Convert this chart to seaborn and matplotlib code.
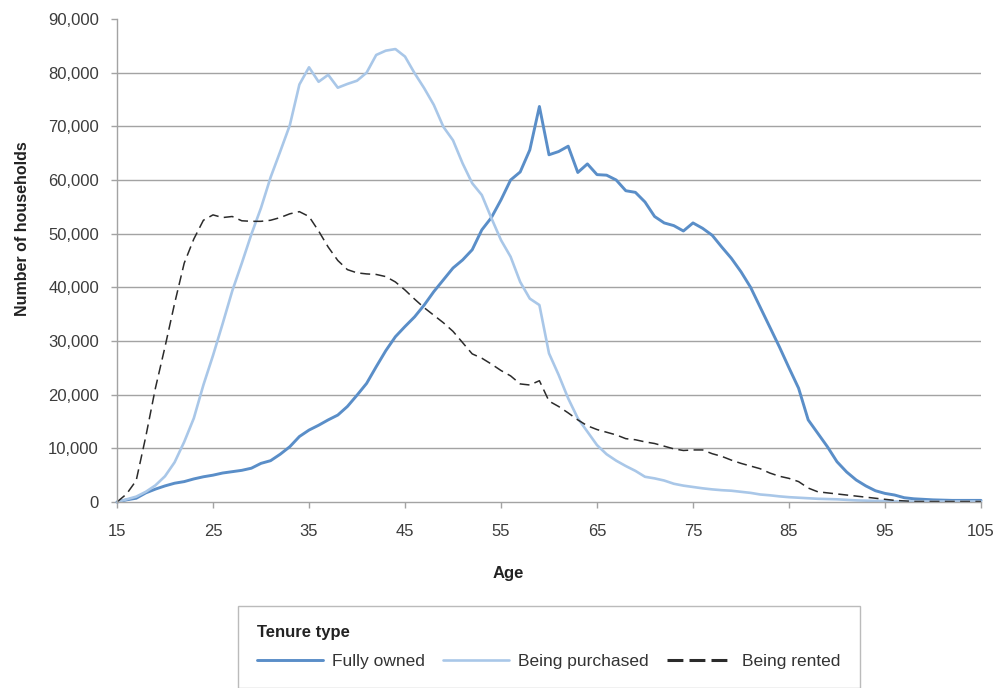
import matplotlib
matplotlib.use("Agg")
import matplotlib.pyplot as plt
from matplotlib.ticker import FixedLocator, StrMethodFormatter
import seaborn as sns
import pandas as pd

# ---------------- data ----------------
ages = list(range(15, 106))

fully_owned = [
    0, 400, 700, 1700, 2400, 3000, 3500, 3800, 4300, 4700,
    5000, 5400, 5650, 5900, 6300, 7200, 7700, 8900, 10300, 12200,
    13400, 14300, 15300, 16200, 17800, 19900, 22100, 25200, 28200, 30800,
    32700, 34500, 36700, 39200, 41400, 43600, 45100, 47000, 50700, 53000,
    56300, 60000, 61500, 65600, 73700, 64700, 65300, 66300, 61400, 63000,
    61000, 60900, 60000, 58000, 57700, 55900, 53200, 52000, 51500, 50500,
    52000, 51000, 49700, 47500, 45400, 42900, 40000, 36300, 32600, 28900,
    25000, 21200, 15300, 12800, 10300, 7500, 5600, 4100, 3000, 2100,
    1600, 1300, 800, 600, 500, 400, 350, 300, 300, 300, 300,
]

being_purchased = [
    0, 500, 1000, 1900, 3100, 4800, 7400, 11200, 15600, 21800,
    27300, 33200, 39300, 44500, 49900, 54800, 60500, 65300, 70200, 77800,
    81000, 78300, 79600, 77200, 77900, 78500, 80000, 83300, 84100, 84400,
    83000, 79900, 77100, 74000, 69900, 67400, 63100, 59400, 57200, 52900,
    48800, 45700, 41000, 37900, 36700, 27700, 23700, 19300, 15600, 13100,
    10600, 8900, 7700, 6700, 5800, 4700, 4400, 4000, 3400, 3050,
    2800, 2550, 2350, 2200, 2100, 1900, 1700, 1400, 1250, 1050,
    900, 800, 700, 600, 550, 500, 400, 300, 250, 200,
    200, 100, 100, 100, 100, 100, 100, 100, 100, 100, 100,
]

being_rented = [
    0, 1500, 4000, 12200, 21200, 28900, 37000, 44500, 49000, 52500,
    53500, 53000, 53200, 52400, 52300, 52300, 52500, 53000, 53700, 54100,
    53200, 50500, 47500, 45000, 43300, 42700, 42500, 42400, 42000, 41000,
    39500, 37800, 36200, 34800, 33400, 31800, 29700, 27600, 26800, 25700,
    24500, 23500, 22000, 21800, 22600, 18800, 17800, 16600, 15300, 14200,
    13500, 13000, 12500, 11800, 11600, 11200, 10900, 10400, 9900, 9600,
    9700, 9700, 9000, 8500, 7800, 7200, 6700, 6200, 5400, 4800,
    4400, 3800, 2600, 1900, 1700, 1500, 1300, 1100, 900, 700,
    500, 300, 200, 100, 100, 100, 100, 100, 100, 100, 100,
]

series_names = ["Fully owned", "Being purchased", "Being rented"]
x_ticks = [15, 25, 35, 45, 55, 65, 75, 85, 95, 105]
y_ticks = [0, 10000, 20000, 30000, 40000, 50000, 60000, 70000, 80000, 90000]

# ---------------- style ----------------
sns.set_style("white")
plt.rcParams["font.family"] = ["Liberation Sans", "DejaVu Sans"]

colors = {"Fully owned": "#5a8ec8", "Being purchased": "#a9c7e8", "Being rented": "#2b2b2b"}
widths = {"Fully owned": 2.1, "Being purchased": 1.9, "Being rented": 1.1}

df = pd.DataFrame({
    "Age": ages * 3,
    "Households": fully_owned + being_purchased + being_rented,
    "Tenure": [series_names[0]] * len(ages) + [series_names[1]] * len(ages) + [series_names[2]] * len(ages),
})

fig, ax = plt.subplots(figsize=(10.01, 6.88), dpi=100)
fig.subplots_adjust(left=117 / 1001, right=981 / 1001, bottom=(688 - 502) / 688, top=(688 - 19) / 688)

handles = []
for name in series_names:
    sub = df[df["Tenure"] == name]
    sns.lineplot(data=sub, x="Age", y="Households", ax=ax, color=colors[name],
                 linewidth=widths[name], label=name, legend=False, clip_on=False)
    line = ax.get_lines()[-1]
    if name == "Being rented":
        line.set_dashes((6.5, 3.5))
    handles.append(line)

ax.set_xlim(15, 105)
ax.set_ylim(0, 90000)
ax.xaxis.set_major_locator(FixedLocator(x_ticks))
ax.yaxis.set_major_locator(FixedLocator(y_ticks))
ax.yaxis.set_major_formatter(StrMethodFormatter("{x:,.0f}"))

grid_c = "#a3a3a3"
ax.yaxis.grid(True, color=grid_c, linewidth=1.0)
ax.xaxis.grid(False)
ax.set_axisbelow(True)
for gl, t in zip(ax.yaxis.get_gridlines(), y_ticks):
    if t in (0, 90000):
        gl.set_visible(False)

for side in ("top", "right"):
    ax.spines[side].set_visible(False)
for side in ("left", "bottom"):
    ax.spines[side].set_color(grid_c)
    ax.spines[side].set_linewidth(1.0)

ax.tick_params(axis="both", which="major", direction="out", length=4, width=1.0,
               color=grid_c, labelsize=12, labelcolor="#3c3c3c")
ax.tick_params(axis="y", pad=9, left=True)
ax.tick_params(axis="x", pad=12, bottom=True)

ax.set_xlabel("Age", fontsize=12, fontweight="bold", color="#222222")
ax.xaxis.label.set_va("top")
ax.xaxis.set_label_coords((508 - 117) / 864, (502 - 566) / 483)

ax.set_ylabel("Number of households", fontsize=11.5, fontweight="bold", color="#222222")
ax.yaxis.label.set_rotation_mode("default")
ax.yaxis.label.set_va("center")
ax.yaxis.label.set_ha("center")
ax.yaxis.set_label_coords((22.5 - 117) / 864, (502 - 229) / 483)

leg = fig.legend(handles, series_names, loc="upper left",
                 bbox_to_anchor=(238 / 1001, 1 - 606 / 688), bbox_transform=fig.transFigure,
                 ncol=3, title="Tenure type", alignment="left",
                 frameon=True, fancybox=False, shadow=False,
                 borderpad=1.1, borderaxespad=0, handlelength=3.8, handletextpad=0.52,
                 columnspacing=1.05, labelspacing=0.8, fontsize=12.5,
                 title_fontproperties={"weight": "bold", "size": 12})
leg.get_frame().set_edgecolor("#aaaaaa")
leg.get_frame().set_linewidth(1.0)
for txt in leg.get_texts():
    txt.set_color("#333333")
leg.get_title().set_color("#222222")
dash_handle = leg.legend_handles[2]
dash_handle.set_linewidth(2.2)
dash_handle.set_dashes((5.2, 2.0))

fig.savefig("out.png", dpi=100)
